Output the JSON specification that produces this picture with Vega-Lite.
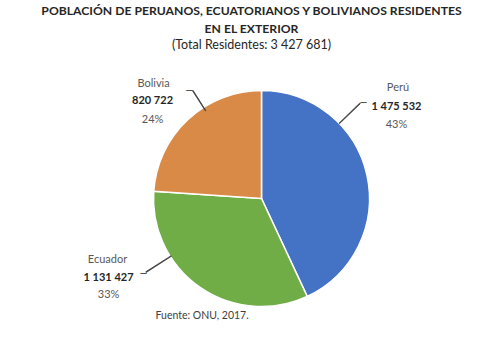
{
  "$schema": "https://vega.github.io/schema/vega-lite/v6.json",
  "padding": {"left": 40.5, "top": 4.5, "right": 0, "bottom": 0},
  "background": "white",
  "config": {
    "view": {"stroke": null},
    "font": "Lato",
    "locale": {"number": {"decimal": ",", "thousands": " ", "grouping": [3], "currency": ["", ""]}}
  },
  "title": {
    "text": ["POBLACIÓN DE PERUANOS, ECUATORIANOS Y BOLIVIANOS RESIDENTES", "EN EL EXTERIOR"],
    "subtitle": "(Total Residentes: 3 427 681)",
    "anchor": "middle",
    "frame": "group",
    "dx": -10,
    "font": "Lato",
    "fontSize": 12.2,
    "fontWeight": "bold",
    "color": "#262626",
    "lineHeight": 18,
    "subtitleFont": "Lato",
    "subtitleFontSize": 12.5,
    "subtitleColor": "#262626",
    "subtitlePadding": 4,
    "offset": 22
  },
  "vconcat": [
    {
      "width": 400,
      "height": 250,
      "title": {
        "text": "Fuente: ONU, 2017.",
        "orient": "bottom",
        "anchor": "start",
        "frame": "group",
        "dx": 94,
        "offset": -13,
        "font": "Lato",
        "fontSize": 10.5,
        "fontWeight": "normal",
        "color": "#404040"
      },
      "data": {
        "values": [
          {"pais": "Perú", "valor": 1475532, "pct": 0.43, "orden": 1},
          {"pais": "Ecuador", "valor": 1131427, "pct": 0.33, "orden": 2},
          {"pais": "Bolivia", "valor": 820722, "pct": 0.24, "orden": 3}
        ]
      },
      "layer": [
        {
          "mark": {"type": "arc", "outerRadius": 108, "stroke": "white", "strokeWidth": 1.5, "clip": true},
          "encoding": {
            "theta": {"field": "valor", "type": "quantitative", "stack": true},
            "order": {"field": "orden", "type": "quantitative"},
            "color": {
              "field": "pais", "type": "nominal",
              "scale": {"domain": ["Perú", "Ecuador", "Bolivia"], "range": ["#4472C4", "#70AD47", "#DA8A47"]},
              "legend": null
            }
          }
        },
        {
          "transform": [{"filter": "datum.pais === 'Perú'"}],
          "mark": {"type": "arc", "fill": "#404040", "stroke": "#404040", "strokeWidth": 0.8, "clip": true},
          "encoding": {"theta": {"value": 0.8}, "theta2": {"value": 0.806}, "radius": {"value": 137}, "radius2": {"value": 108}}
        },
        {
          "transform": [{"filter": "datum.pais === 'Ecuador'"}],
          "mark": {"type": "arc", "fill": "#404040", "stroke": "#404040", "strokeWidth": 0.8, "clip": true},
          "encoding": {"theta": {"value": 4.142}, "theta2": {"value": 4.148}, "radius": {"value": 137}, "radius2": {"value": 107}}
        },
        {
          "transform": [{"filter": "datum.pais === 'Bolivia'"}],
          "mark": {"type": "arc", "fill": "#404040", "stroke": "#404040", "strokeWidth": 0.8, "clip": true},
          "encoding": {"theta": {"value": 5.713}, "theta2": {"value": 5.719}, "radius": {"value": 128}, "radius2": {"value": 104}}
        },
        {
          "mark": {"type": "text", "radius": 140, "dx": -0.2, "dy": -79.7, "fontSize": 11, "font": "Lato", "color": "#595959", "baseline": "middle", "align": "center", "clip": true},
          "encoding": {
            "theta": {"field": "valor", "type": "quantitative", "stack": true},
            "order": {"field": "orden", "type": "quantitative"},
            "text": {"condition": {"test": "datum.pais === 'Perú'", "field": "pais", "type": "nominal"}, "value": ""}
          }
        },
        {
          "mark": {"type": "text", "radius": 140, "dx": -1.7, "dy": -60.7, "fontSize": 11, "font": "Lato", "fontWeight": "bold", "color": "#262626", "baseline": "middle", "align": "center", "clip": true},
          "encoding": {
            "theta": {"field": "valor", "type": "quantitative", "stack": true},
            "order": {"field": "orden", "type": "quantitative"},
            "text": {"condition": {"test": "datum.pais === 'Perú'", "field": "valor", "type": "quantitative", "format": ",d"}, "value": ""}
          }
        },
        {
          "mark": {"type": "text", "radius": 140, "dx": -1.7, "dy": -43.2, "fontSize": 11, "font": "Lato", "color": "#595959", "baseline": "middle", "align": "center", "clip": true},
          "encoding": {
            "theta": {"field": "valor", "type": "quantitative", "stack": true},
            "order": {"field": "orden", "type": "quantitative"},
            "text": {"condition": {"test": "datum.pais === 'Perú'", "field": "pct", "type": "quantitative", "format": ".0%"}, "value": ""}
          }
        },
        {
          "mark": {"type": "text", "radius": 140, "dx": -34.7, "dy": -64.7, "fontSize": 10, "font": "DejaVu Sans", "color": "#404040", "baseline": "middle", "align": "center", "clip": true},
          "encoding": {
            "theta": {"field": "valor", "type": "quantitative", "stack": true},
            "order": {"field": "orden", "type": "quantitative"},
            "text": {"condition": {"test": "datum.pais === 'Perú'", "value": "─"}, "value": ""}
          }
        },
        {
          "mark": {"type": "text", "radius": 140, "dx": -74.9, "dy": -54.5, "fontSize": 11, "font": "Lato", "color": "#595959", "baseline": "middle", "align": "center", "clip": true},
          "encoding": {
            "theta": {"field": "valor", "type": "quantitative", "stack": true},
            "order": {"field": "orden", "type": "quantitative"},
            "text": {"condition": {"test": "datum.pais === 'Ecuador'", "field": "pais", "type": "nominal"}, "value": ""}
          }
        },
        {
          "mark": {"type": "text", "radius": 140, "dx": -73.9, "dy": -36.5, "fontSize": 11, "font": "Lato", "fontWeight": "bold", "color": "#262626", "baseline": "middle", "align": "center", "clip": true},
          "encoding": {
            "theta": {"field": "valor", "type": "quantitative", "stack": true},
            "order": {"field": "orden", "type": "quantitative"},
            "text": {"condition": {"test": "datum.pais === 'Ecuador'", "field": "valor", "type": "quantitative", "format": ",d"}, "value": ""}
          }
        },
        {
          "mark": {"type": "text", "radius": 140, "dx": -73.9, "dy": -19, "fontSize": 11, "font": "Lato", "color": "#595959", "baseline": "middle", "align": "center", "clip": true},
          "encoding": {
            "theta": {"field": "valor", "type": "quantitative", "stack": true},
            "order": {"field": "orden", "type": "quantitative"},
            "text": {"condition": {"test": "datum.pais === 'Ecuador'", "field": "pct", "type": "quantitative", "format": ".0%"}, "value": ""}
          }
        },
        {
          "mark": {"type": "text", "radius": 140, "dx": -38.9, "dy": -40.5, "fontSize": 10, "font": "DejaVu Sans", "color": "#404040", "baseline": "middle", "align": "center", "clip": true},
          "encoding": {
            "theta": {"field": "valor", "type": "quantitative", "stack": true},
            "order": {"field": "orden", "type": "quantitative"},
            "text": {"condition": {"test": "datum.pais === 'Ecuador'", "value": "─"}, "value": ""}
          }
        },
        {
          "mark": {"type": "text", "radius": 140, "dx": -12.3, "dy": -12.3, "fontSize": 11, "font": "Lato", "color": "#595959", "baseline": "middle", "align": "center", "clip": true},
          "encoding": {
            "theta": {"field": "valor", "type": "quantitative", "stack": true},
            "order": {"field": "orden", "type": "quantitative"},
            "text": {"condition": {"test": "datum.pais === 'Bolivia'", "field": "pais", "type": "nominal"}, "value": ""}
          }
        },
        {
          "mark": {"type": "text", "radius": 140, "dx": -13.3, "dy": 4.7, "fontSize": 11, "font": "Lato", "fontWeight": "bold", "color": "#262626", "baseline": "middle", "align": "center", "clip": true},
          "encoding": {
            "theta": {"field": "valor", "type": "quantitative", "stack": true},
            "order": {"field": "orden", "type": "quantitative"},
            "text": {"condition": {"test": "datum.pais === 'Bolivia'", "field": "valor", "type": "quantitative", "format": ",d"}, "value": ""}
          }
        },
        {
          "mark": {"type": "text", "radius": 140, "dx": -13.3, "dy": 23.7, "fontSize": 11, "font": "Lato", "color": "#595959", "baseline": "middle", "align": "center", "clip": true},
          "encoding": {
            "theta": {"field": "valor", "type": "quantitative", "stack": true},
            "order": {"field": "orden", "type": "quantitative"},
            "text": {"condition": {"test": "datum.pais === 'Bolivia'", "field": "pct", "type": "quantitative", "format": ".0%"}, "value": ""}
          }
        },
        {
          "mark": {"type": "text", "radius": 140, "dx": 23.5, "dy": -5.5, "fontSize": 10, "font": "DejaVu Sans", "color": "#404040", "baseline": "middle", "align": "center", "clip": true},
          "encoding": {
            "theta": {"field": "valor", "type": "quantitative", "stack": true},
            "order": {"field": "orden", "type": "quantitative"},
            "text": {"condition": {"test": "datum.pais === 'Bolivia'", "value": "─"}, "value": ""}
          }
        }
      ]
    }
  ]
}
